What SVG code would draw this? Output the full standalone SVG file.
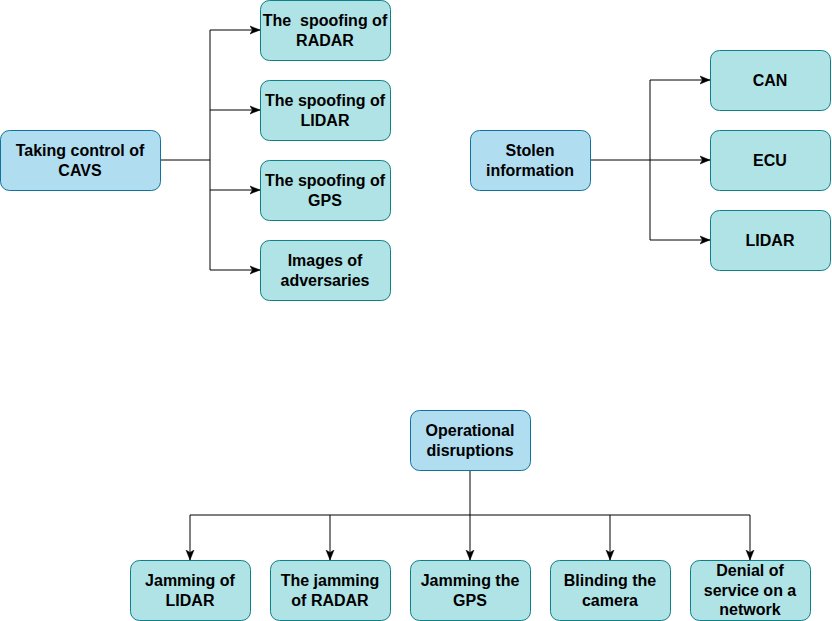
<svg xmlns="http://www.w3.org/2000/svg" width="832" height="621" viewBox="0 0 832 621">
<style>
.p{fill:#b1ddf0;stroke:#10739e;stroke-width:1}
.c{fill:#b0e3e6;stroke:#0e8088;stroke-width:1}
text{font-family:"Liberation Sans",Arial,Helvetica,sans-serif;font-size:16px;font-weight:bold;fill:#000;text-anchor:middle}
.l{fill:none;stroke:#000;stroke-width:1}
.a{fill:none;stroke:#000;stroke-width:1;marker-end:url(#ah)}
</style>
<defs>
<marker id="ah" viewBox="0 0 10 10" refX="10" refY="5" markerWidth="10" markerHeight="10" markerUnits="userSpaceOnUse" orient="auto">
<path d="M0,1 L10,5 L0,9 L2.5,5 Z" fill="#000" stroke="#000" stroke-width="0.5"/>
</marker>
</defs>
<rect width="832" height="621" fill="#fff"/>
<g id="connectors">
<path class="l" d="M160,160 H210 M210,30 V270"/>
<path class="a" d="M210,30 H260"/>
<path class="a" d="M210,110 H260"/>
<path class="a" d="M210,190 H260"/>
<path class="a" d="M210,270 H260"/>
<path class="l" d="M650,80 V240"/>
<path class="a" d="M650,80 H710"/>
<path class="a" d="M590,160 H710"/>
<path class="a" d="M650,240 H710"/>
<path class="l" d="M470,470 V515 M190,515 H750"/>
<path class="a" d="M190,515 V560"/>
<path class="a" d="M330,515 V560"/>
<path class="a" d="M470,515 V560"/>
<path class="a" d="M610,515 V560"/>
<path class="a" d="M750,515 V560"/>
</g>
<g id="n-taking">
<rect class="p" x="0.5" y="130.5" width="160" height="60" rx="9"/>
<text x="80" y="155.5">Taking control of</text>
<text x="80" y="175.5">CAVS</text>
</g>
<g id="n-spoof-radar">
<rect class="c" x="260.5" y="0.5" width="130" height="60" rx="9"/>
<text x="325" y="25.5" xml:space="preserve">The  spoofing of</text>
<text x="325" y="45.5">RADAR</text>
</g>
<g id="n-spoof-lidar">
<rect class="c" x="260.5" y="80.5" width="130" height="60" rx="9"/>
<text x="325" y="105.5">The spoofing of</text>
<text x="325" y="125.5">LIDAR</text>
</g>
<g id="n-spoof-gps">
<rect class="c" x="260.5" y="160.5" width="130" height="60" rx="9"/>
<text x="325" y="185.5">The spoofing of</text>
<text x="325" y="205.5">GPS</text>
</g>
<g id="n-images">
<rect class="c" x="260.5" y="240.5" width="130" height="60" rx="9"/>
<text x="325" y="265.5">Images of</text>
<text x="325" y="285.5">adversaries</text>
</g>
<g id="n-stolen">
<rect class="p" x="470.5" y="130.5" width="120" height="60" rx="9"/>
<text x="530" y="155.5">Stolen</text>
<text x="530" y="175.5">information</text>
</g>
<g id="n-can">
<rect class="c" x="710.5" y="50.5" width="120" height="60" rx="9"/>
<text x="770" y="85.5">CAN</text>
</g>
<g id="n-ecu">
<rect class="c" x="710.5" y="130.5" width="120" height="60" rx="9"/>
<text x="770" y="165.5">ECU</text>
</g>
<g id="n-lidar">
<rect class="c" x="710.5" y="210.5" width="120" height="60" rx="9"/>
<text x="770" y="245.5">LIDAR</text>
</g>
<g id="n-operational">
<rect class="p" x="410.5" y="410.5" width="120" height="60" rx="9"/>
<text x="470" y="435.5">Operational</text>
<text x="470" y="455.5">disruptions</text>
</g>
<g id="n-jam-lidar">
<rect class="c" x="130.5" y="560.5" width="120" height="60" rx="9"/>
<text x="190" y="585.5">Jamming of</text>
<text x="190" y="605.5">LIDAR</text>
</g>
<g id="n-jam-radar">
<rect class="c" x="270.5" y="560.5" width="120" height="60" rx="9"/>
<text x="330" y="585.5">The jamming</text>
<text x="330" y="605.5">of RADAR</text>
</g>
<g id="n-jam-gps">
<rect class="c" x="410.5" y="560.5" width="120" height="60" rx="9"/>
<text x="470" y="585.5">Jamming the</text>
<text x="470" y="605.5">GPS</text>
</g>
<g id="n-blind">
<rect class="c" x="550.5" y="560.5" width="120" height="60" rx="9"/>
<text x="610" y="585.5">Blinding the</text>
<text x="610" y="605.5">camera</text>
</g>
<g id="n-dos">
<rect class="c" x="690.5" y="560.5" width="120" height="60" rx="9"/>
<text x="750" y="576">Denial of</text>
<text x="750" y="595.5">service on a</text>
<text x="750" y="615">network</text>
</g>
</svg>
